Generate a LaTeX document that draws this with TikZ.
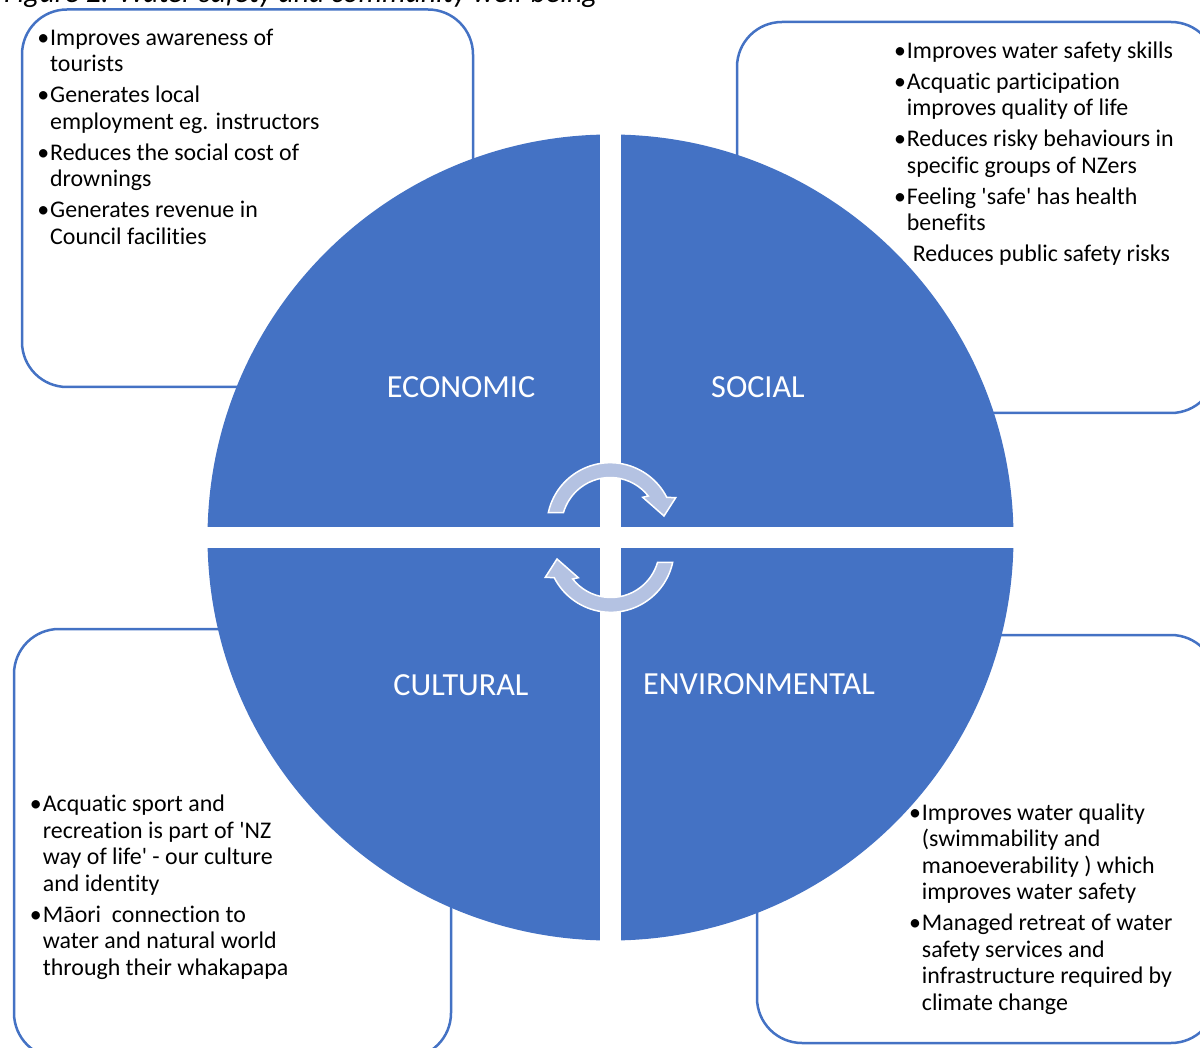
\documentclass[tikz,border=0pt]{standalone}
\usepackage{fontspec}
\setmainfont{Carlito}[Ligatures={NoCommon}]
\usetikzlibrary{calc}
\definecolor{accent}{HTML}{4472C4}
\definecolor{arrowfill}{HTML}{B4C2E2}
\newcommand{\bl}{\llap{\textbullet\hspace{1pt}}}
\newcommand{\sk}{\\[4.5pt]}
\newcommand{\fs}{\rule{0pt}{18pt}}
\newcommand{\sq}{\textquotesingle}
\begin{document}
\begin{tikzpicture}[x=1pt,y=-1pt,
  box/.style={draw=accent, line width=2.5pt, rounded corners=45pt, fill=white, inner sep=0pt, outer sep=0pt, anchor=north west},
  txt/.style={anchor=north west, inner sep=0pt, align=left, font=\fontsize{23.9}{26.5}\selectfont},
  lab/.style={text=white, inner sep=0pt, font=\fontsize{32.2}{36}\selectfont, anchor=base},
  cyc/.style={fill=arrowfill, draw=white, line width=1.5pt, line join=miter}]
\useasboundingbox (0,0) rectangle (1200,1048);
\clip (0,0) rectangle (1200,1048);

% title (cut at the top edge)
\node[anchor=base east, inner sep=0pt, font=\fontsize{29.7}{32}\selectfont\itshape] (title) at (598,3) {Figure 2: Water safety and community well-being};

% boxes
\node[box, minimum width=451pt, minimum height=377.5pt] (ecobox) at (22,9.5) {};
\node[box, minimum width=479pt, minimum height=391pt] (socbox) at (737,22) {};
\node[box, minimum width=437pt, minimum height=429pt] (culbox) at (14,629) {};
\node[box, minimum width=459pt, minimum height=408pt] (envbox) at (757,635) {};

% circle split into four quadrants
\fill[accent] (610.5,537.5) circle[radius=403];
\fill[white] (600,125) rectangle (621,950);
\fill[white] (200,527) rectangle (1020,548);

% quadrant labels
\node[lab] (eco) at (461,398) {ECONOMIC};
\node[lab] (soc) at (758,398) {SOCIAL};
\node[lab] (cul) at (461,695) {CULTURAL};
\node[lab] (env) at (759,694) {ENVIRONMENTAL};

% cycle arrows
\path[cyc] (548.3,512.7) arc[start angle=-167.8, end angle=-27, radius=63.4]
  -- (675.7,497.7) -- (664,516) -- (642.7,497.3) -- (648.3,496)
  arc[start angle=-38.3, end angle=-163.8, radius=48.6] -- cycle;
\begin{scope}[rotate around={180:(610.5,537.5)}]
\path[cyc] (548.3,512.7) arc[start angle=-167.8, end angle=-27, radius=63.4]
  -- (675.7,497.7) -- (664,516) -- (642.7,497.3) -- (648.3,496)
  arc[start angle=-38.3, end angle=-163.8, radius=48.6] -- cycle;
\end{scope}

% box texts
\node[txt] (ecotext) at (50,27) {\fs\bl Improves awareness of\\tourists\sk
  \bl Generates local\\employment eg. instructors\sk
  \bl Reduces the social cost of\\drownings\sk
  \bl Generates revenue in\\Council facilities};
\node[txt] (soctext) at (906.7,40) {\fs\bl Improves water safety skills\sk
  \bl Acquatic participation\\improves quality of life\sk
  \bl Reduces risky behaviours in\\specific groups of NZers\sk
  \bl Feeling \sq safe\sq\ has health\\benefits\sk
  \hspace*{6pt}Reduces public safety risks};
\node[txt] (cultext) at (42.7,793.7) {\fs\bl Acquatic sport and\\recreation is part of \sq NZ\\way of life\sq\ - our culture\\and identity\sk
  \bl Māori\ \ connection to\\water and natural world\\through their whakapapa};
\node[txt] (envtext) at (921.7,802) {\fs\bl Improves water quality\\(swimmability and\\manoeverability ) which\\improves water safety\sk
  \bl Managed retreat of water\\safety services and\\infrastructure required by\\climate change};
\end{tikzpicture}
\end{document}
